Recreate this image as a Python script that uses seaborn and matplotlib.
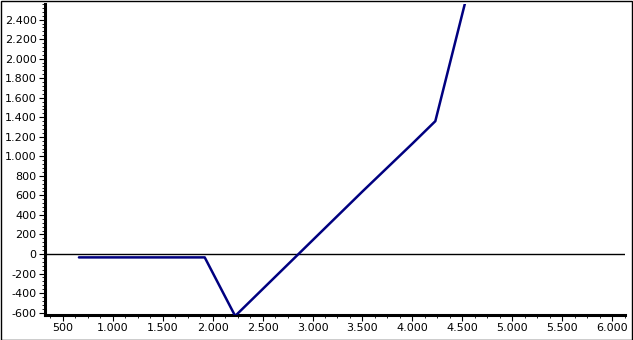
import matplotlib
matplotlib.use("Agg")
import matplotlib.pyplot as plt
import matplotlib.ticker as mticker
import seaborn as sns
import pandas as pd

# data
price = [660, 1920, 2225, 2400, 2860, 3000, 3500, 4000, 4230, 4535]
profit = [-35, -35, -635, -460, 0, 140, 640, 1130, 1360, 2600]

x_ticks = [500, 1000, 1500, 2000, 2500, 3000, 3500, 4000, 4500, 5000, 5500, 6000]
y_ticks = [-600, -400, -200, 0, 200, 400, 600, 800, 1000, 1200, 1400, 1600, 1800, 2000, 2200, 2400]

df = pd.DataFrame({"price": price, "profit": profit})

sns.set_style("white")
plt.rcParams["font.family"] = ["DejaVu Sans"]

fig = plt.figure(figsize=(6.33, 3.40), dpi=100)
ax = fig.add_axes([45 / 633, 25 / 340, 580 / 633, 311 / 340])

ax.axhline(0, color="black", lw=1.0, zorder=1)
sns.lineplot(data=df, x="price", y="profit", sort=False, color="#000080",
             lw=1.8, ax=ax, zorder=3)

ax.set_xlim(320, 6130)
ax.set_ylim(-625, 2560)
ax.set_xlabel("")
ax.set_ylabel("")

def fmt(v, pos=None):
    return f"{int(v):,}".replace(",", ".")

ax.xaxis.set_major_locator(mticker.FixedLocator(x_ticks))
ax.xaxis.set_minor_locator(mticker.MultipleLocator(125))
ax.yaxis.set_major_locator(mticker.FixedLocator(y_ticks))
ax.yaxis.set_minor_locator(mticker.MultipleLocator(40))
ax.xaxis.set_major_formatter(mticker.FuncFormatter(fmt))
ax.yaxis.set_major_formatter(mticker.FuncFormatter(fmt))

for s in ["top", "right"]:
    ax.spines[s].set_visible(False)
for s in ["left", "bottom"]:
    ax.spines[s].set_linewidth(2.2)
    ax.spines[s].set_color("black")

ax.tick_params(axis="both", which="major", direction="out", length=4, width=0.8,
               colors="black", labelsize=8, pad=2, bottom=True, left=True)
ax.tick_params(axis="both", which="minor", direction="out", length=2, width=0.6,
               colors="black", bottom=True, left=True)

# outer frame
fig.patches.append(plt.Rectangle((0.5 / 633, 0.5 / 340), 631.5 / 633, 338.5 / 340,
                                 transform=fig.transFigure, fill=False,
                                 edgecolor="black", lw=1.0))

fig.savefig("out.png", dpi=100, facecolor="white")
